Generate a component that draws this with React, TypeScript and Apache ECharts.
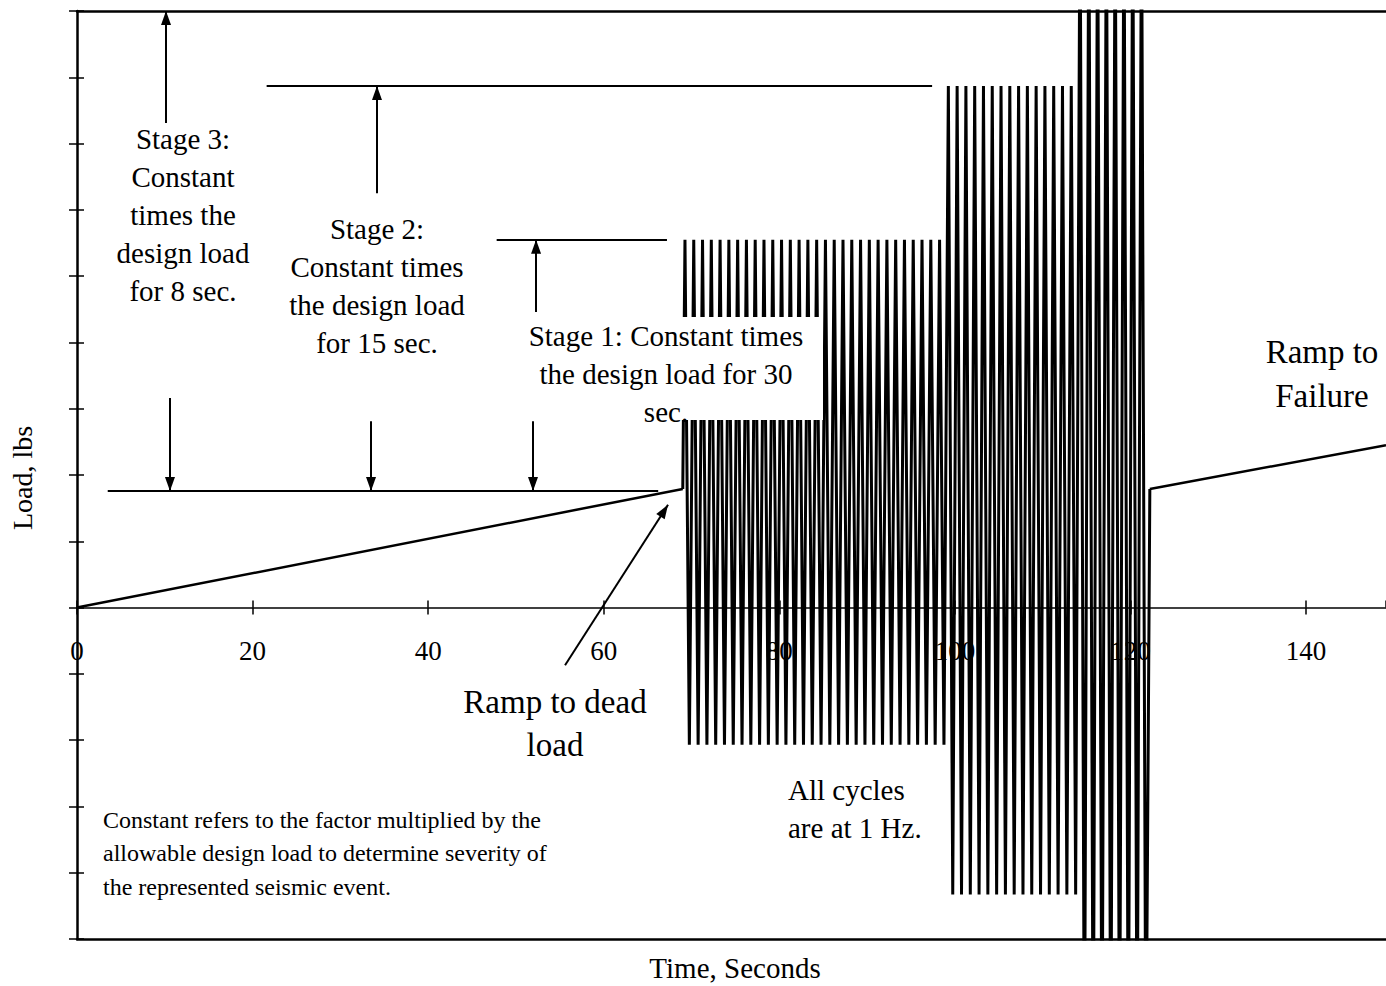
import React, { useEffect, useRef } from "react";
import * as echarts from "echarts";

// ---- data (time in seconds, load in arbitrary units) ----
const xMin = 0;
const xMax = 149.1;
const xInterval = 20;
const yMin = -5;
const yMax = 9;
const yInterval = 1;

const deadLoad = 1.79;
const deadLoadRamp = [
  [0, 0],
  [69, 1.79],
];
const stageStart = [69, 99, 114];
const stageCycles = [30, 15, 8];
const stagePeak = [5.55, 7.87, 11];
const stageTrough = [-2.07, -4.33, -7.5];
const cycleEnd = [122.2, 1.79];
const failureRamp = [
  [122.2, 1.79],
  [149.1, 2.45],
];

// annotation level lines [xFrom, xTo, y]
const levelLines = [
  [3.5, 66.2, 1.76],
  [47.8, 67.2, 5.55],
  [21.6, 97.4, 7.87],
];
// arrows [xFrom, yFrom, xTo, yTo]
const arrows = [
  [10.14, 7.31, 10.14, 9.0],
  [34.17, 6.25, 34.17, 7.87],
  [52.29, 4.46, 52.29, 5.55],
  [10.59, 3.16, 10.59, 1.76],
  [33.49, 2.81, 33.49, 1.76],
  [51.94, 2.81, 51.94, 1.76],
  [55.59, -0.87, 67.32, 1.55],
];

const stage3Text = "Stage 3:\nConstant\ntimes the\ndesign load\nfor 8 sec.";
const stage2Text = "Stage 2:\nConstant times\nthe design load\nfor 15 sec.";
const stage1Text = "Stage 1: Constant times\nthe design load for 30\nsec.";
const failureText = "Ramp to\nFailure";
const deadText = "Ramp to dead\nload";
const cyclesText = "All cycles\nare at 1 Hz.";
const noteText =
  "Constant refers to the factor multiplied by the\nallowable design load to determine severity of\nthe represented seismic event.";
const xTitle = "Time, Seconds";
const yTitle = "Load, lbs";

const FONT = '"Liberation Serif", "Times New Roman", serif';

function buildCycles() {
  const pts: number[][] = [[stageStart[0], deadLoad]];
  stageStart.forEach((t0, i) => {
    for (let k = 0; k < stageCycles[i]; k++) {
      pts.push([t0 + k + 0.25, stagePeak[i]]);
      pts.push([t0 + k + 0.75, stageTrough[i]]);
    }
  });
  pts.push(cycleEnd);
  return pts;
}

function txt(text: string, x: number, y: number, size: number, lh: number, align = "center", extra: any = {}) {
  return {
    type: "text",
    x,
    y,
    z: 100,
    silent: true,
    ...extra,
    style: {
      text,
      fill: "#000",
      fontSize: size,
      fontFamily: FONT,
      align,
      verticalAlign: "middle",
      lineHeight: lh,
    },
  };
}

export default function App() {
  const ref = useRef<HTMLDivElement>(null);
  useEffect(() => {
    const chart = echarts.init(ref.current!, null, { renderer: "svg" });
    const lineBase = {
      type: "line",
      showSymbol: false,
      symbol: "none",
      silent: true,
      clip: true,
      animation: false,
    };
    const markData: any[] = [];
    levelLines.forEach(([x1, x2, y]) => {
      markData.push([
        { coord: [x1, y], symbol: "none" },
        { coord: [x2, y], symbol: "none" },
      ]);
    });
    arrows.forEach(([x1, y1, x2, y2]) => {
      markData.push([
        { coord: [x1, y1], symbol: "none" },
        { coord: [x2, y2], symbol: "triangle", symbolSize: [10, 14], symbolOffset: [0, 7] },
      ]);
    });
    const axisCommon = {
      type: "value",
      min: xMin,
      max: xMax,
      interval: xInterval,
      splitLine: { show: false },
    };
    const yCommon = {
      type: "value",
      min: yMin,
      max: yMax,
      interval: yInterval,
      splitLine: { show: false },
      axisLabel: { show: false },
    };
    const frameAxis = (position: string) => ({
      ...axisCommon,
      position,
      axisLine: { show: true, onZero: false, lineStyle: { color: "#000", width: 2.5 } },
      axisTick: { show: false },
      axisLabel: { show: false },
    });
    chart.setOption({
      animation: false,
      backgroundColor: "#fff",
      grid: {
        left: 77,
        top: 11,
        bottom: 47,
        right: 0,
        show: false,
        containLabel: false,
        outerBoundsMode: "none",
      },
      xAxis: [
        {
          ...axisCommon,
          position: "bottom",
          axisLine: { show: true, onZero: true, lineStyle: { color: "#000", width: 1.5 } },
          axisTick: { show: true, inside: false, length: 7, lineStyle: { color: "#000", width: 1.5 } },
          axisLabel: {
            show: true,
            margin: -302,
            color: "#000",
            fontSize: 27,
            fontFamily: FONT,
            showMaxLabel: false,
          },
        },
        {
          ...axisCommon,
          position: "bottom",
          axisLine: { show: false, onZero: true },
          axisTick: { show: true, inside: true, length: 7, lineStyle: { color: "#000", width: 1.5 } },
          axisLabel: { show: false },
        },
        frameAxis("top"),
        frameAxis("bottom"),
      ],
      yAxis: [
        {
          ...yCommon,
          position: "left",
          axisLine: { show: true, onZero: true, lineStyle: { color: "#000", width: 2.5 } },
          axisTick: { show: true, inside: false, length: 8, lineStyle: { color: "#000", width: 1.5 } },
        },
        {
          ...yCommon,
          position: "left",
          axisLine: { show: false, onZero: true },
          axisTick: { show: true, inside: true, length: 7, lineStyle: { color: "#000", width: 1.5 } },
        },
      ],
      series: [
        {
          ...lineBase,
          name: "Ramp to dead load",
          data: deadLoadRamp,
          lineStyle: { color: "#000", width: 2.5 },
          markLine: {
            silent: true,
            animation: false,
            symbol: "none",
            label: { show: false },
            emphasis: { disabled: true },
            lineStyle: { color: "#000", width: 2, type: "solid" },
            data: markData,
          },
        },
        {
          ...lineBase,
          name: "Cycles",
          data: buildCycles(),
          lineStyle: { color: "#000", width: 3 },
        },
        {
          ...lineBase,
          name: "Ramp to failure",
          data: failureRamp,
          lineStyle: { color: "#000", width: 2.5 },
        },
      ],
      graphic: [
        txt(stage3Text, 183, 215, 29, 38),
        txt(stage2Text, 377, 286, 29, 38),
        {
          type: "rect",
          z: 99,
          silent: true,
          shape: { x: 509, y: 317, width: 314, height: 103 },
          style: { fill: "#fff" },
        },
        txt(stage1Text, 666, 374, 29, 38),
        txt(failureText, 1322, 374, 33, 44),
        txt(deadText, 555, 723, 33, 43),
        txt(cyclesText, 788, 809, 29, 38, "left"),
        txt(noteText, 103, 853, 24, 33.5, "left"),
        txt(xTitle, 735, 968, 29, 34),
        txt(yTitle, 22, 478, 28, 34, "center", { rotation: Math.PI / 2 }),
      ],
    });
    return () => chart.dispose();
  }, []);
  return (
    <div
      ref={ref}
      style={{ position: "absolute", left: 0, top: 0, width: 1386, height: 986, background: "#fff" }}
    />
  );
}
